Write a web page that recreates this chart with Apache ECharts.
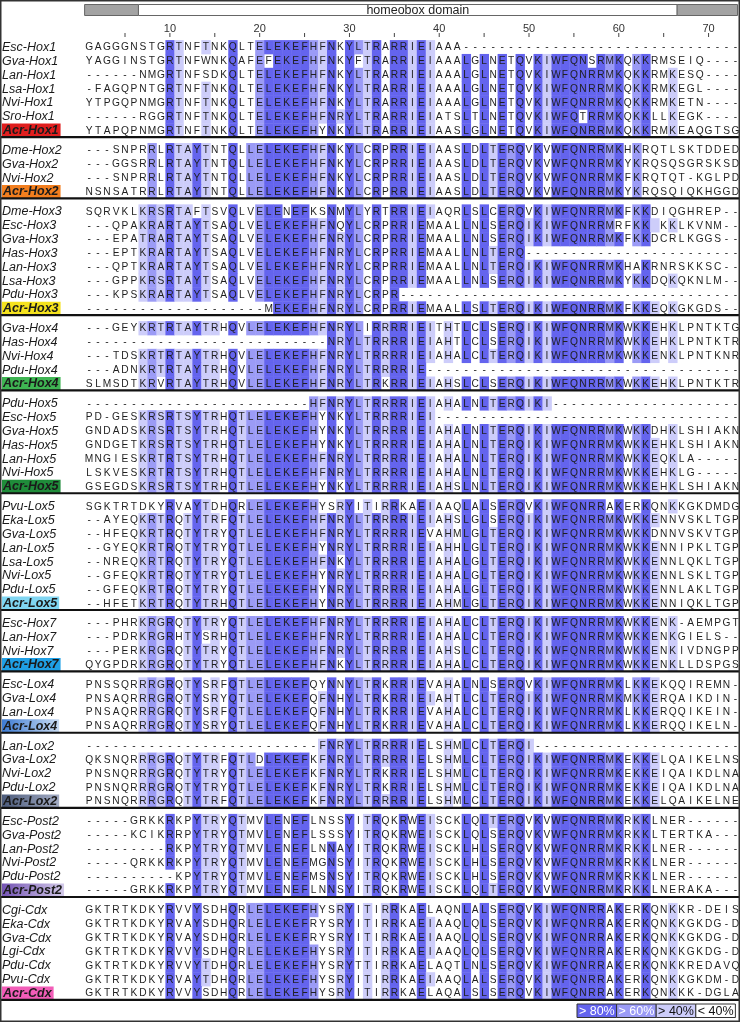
<!DOCTYPE html>
<html>
<head>
<meta charset="utf-8">
<script src="https://cdn.jsdelivr.net/npm/echarts@6.0.0/dist/echarts.min.js"></script>
<style>
html,body{margin:0;padding:0;background:#ffffff;}
#chart{width:740px;height:1023px;}
</style>
</head>
<body>
<div id="chart"></div>
<script>
// ---------------- DATA ----------------
const rowNames = [
 'Esc-Hox1','Gva-Hox1','Lan-Hox1','Lsa-Hox1','Nvi-Hox1','Sro-Hox1','Acr-Hox1',
 'Dme-Hox2','Gva-Hox2','Nvi-Hox2','Acr-Hox2',
 'Dme-Hox3','Esc-Hox3','Gva-Hox3','Has-Hox3','Lan-Hox3','Lsa-Hox3','Pdu-Hox3','Acr-Hox3',
 'Gva-Hox4','Has-Hox4','Nvi-Hox4','Pdu-Hox4','Acr-Hox4',
 'Pdu-Hox5','Esc-Hox5','Gva-Hox5','Has-Hox5','Lan-Hox5','Nvi-Hox5','Acr-Hox5',
 'Pvu-Lox5','Eka-Lox5','Gva-Lox5','Lan-Lox5','Lsa-Lox5','Nvi-Lox5','Pdu-Lox5','Acr-Lox5',
 'Esc-Hox7','Lan-Hox7','Nvi-Hox7','Acr-Hox7',
 'Esc-Lox4','Gva-Lox4','Lan-Lox4','Acr-Lox4',
 'Lan-Lox2','Gva-Lox2','Nvi-Lox2','Pdu-Lox2','Acr-Lox2',
 'Esc-Post2','Gva-Post2','Lan-Post2','Nvi-Post2','Pdu-Post2','Acr-Post2',
 'Cgi-Cdx','Eka-Cdx','Gva-Cdx','Lgi-Cdx','Pdu-Cdx','Pvu-Cdx','Acr-Cdx'
];
const groupNames = ['Hox1','Hox2','Hox3','Hox4','Hox5','Lox5','Hox7','Lox4','Lox2','Post2','Cdx'];
const groupSizes = [7,4,8,5,7,8,4,4,5,6,7];
// label box colours of the Acropora genes: [left, right] of the box
const acrColors = [
 ['#e01e1e','#e01e1e'], ['#f27e1e','#f27e1e'], ['#f5e21e','#f5e21e'], ['#3fb553','#3fb553'],
 ['#1f8c3a','#1f8c3a'], ['#80d6f2','#80d6f2'], ['#1fa0e6','#1fa0e6'], ['#3d7bd2','#c9dcf3'],
 ['#4b5a7a','#a3acc4'], ['#7352b3','#d3cae9'], ['#f25db8','#f25db8']
];

const D10 = '----------';
const rowSeqs = [
 // Hox1
 'GAGGGNSTGRTNFTNKQLTELEKEFHFNKYLT' + 'RARRIEIAAA' + D10 + D10 + D10 + '-',
 'YAGGINSTGRTNFWNKQAFEFEKEFHFNKYFT' + 'RARRIEIAAALGLNETQVKIWFQNSRMKQKKRMSEIQ----',
 '------NMGRTNFSDKQLTELEKEFHFNKYLT' + 'RARRIEIAAALGLNETQVKIWFQNRRMKQKKRMKESQ----',
 '-FAGQPNTGRTNFTNKQLTELEKEFHFNKYLT' + 'RARRIEIAAALGLNETQVKIWFQNRRMKQKKRMKEGL----',
 'YTPGQPNMGRTNFTNKQLTELEKEFHFNKYLT' + 'RARRIEIAAALGLNETQVKIWFQNRRMKQKKRMKETN----',
 '------RGGRTNFTNKQLTELEKEFHFNRYLT' + 'RARRIEIATSLTLNETQVKIWFQTRRMKQKKLLKEGK----',
 'YTAPQPNMGRTNFTNKQLTELEKEFHYNKYLT' + 'RARRIEIAASLGLNETQVKIWFQNRRMKQKKRMKEAQGTSG',
 // Hox2
 '---SNPRRLRTAYTNTQLLELEKEFHFNKYLC' + 'RPRRIEIAASLDLTERQVKVWFQNRRMKHKRQTLSKTDDED',
 '---GGSRRLRTAYTNTQLLELEKEFHFNKYLC' + 'RPRRIEIAASLDLTERQVKVWFQNRRMKYKRQSQSGRSKSD',
 '---SNPRRLRTAYTNTQLLELEKEFHFNKYLC' + 'RPRRIEIAASLDLTERQVKVWFQNRRMKFKRQTQT-KGLPD',
 'NSNSATRRLRTAYTNTQLLELEKEFHFNKYLC' + 'RPRRIEIAASLDLTERQVKVWFQNRRMKYKRQSQIQKHGGD',
 // Hox3
 'SQRVKLKRSRTAFTSVQLVELENEFKSNMYLY' + 'RTRRIEIAQRLSLCERQVKIWFQNRRMKFKKDIQGHREP--',
 '---QPAKRARTAYTSAQLVELEKEFHFNQYLC' + 'RPRRIEMAALLNLSERQIKIWFQNRRMRFKK KKLKVNM--',
 '---EPATRARTAYTSAQLVELEKEFHFNRYLC' + 'RPRRIEMAALLNLSERQIKIWFQNRRMKFKKDCRLKGGS--',
 '---EPTKRARTAYTSAQLVELEKEFHFNRYLC' + 'RPRRIEMAALLNLTERQ' + D10 + D10 + '----',
 '---QPTKRARTAYTSAQLVELEKEFHFNRYLC' + 'RPRRIEMAALLNLTERQIKIWFQNRRMKHAKRNRSKKSC--',
 '---GPPKRSRTAYTSAQLVELEKEFHFNRYLC' + 'RPRRIEMAALLNLSERQIKIWFQNRRMKYKKDQKQKNLM--',
 '---KPSKRARTAYTSAQLVELEKEFHFNRYLC' + 'RPR' + D10 + D10 + D10 + '--------',
 D10 + D10 + 'MEKEFHFNRYLC' + 'RPRRIEMAALLSLTERQIKIWFQNRRMKFKKEQKGKGDS--',
 // Hox4
 '---GEYKRTRTAYTRHQVLELEKEFHFNRYLI' + 'RRRRIEITHTLCLSERQIKIWFQNRRMKWKKEHKLPNTKTG',
 D10 + D10 + '-------' + 'NRYLT' + 'RRRRIEIAHTLCLSERQIKIWFQNRRMKWKKEHKLPNTKTR',
 '---TDSKRTRTAYTRHQVLELEKEFHFNRYLT' + 'RRRRIEIAHALCLTERQIKIWFQNRRMKWKKENKLPNTKNR',
 '---ADNKRTRTAYTRHQVLELEKEFHFNRYLT' + 'RRRRIE' + D10 + D10 + D10 + '-----',
 'SLMSDTKRVRTAYTRHQVLELEKEFHFNRYLT' + 'RKRRIEIAHSLCLSERQIKIWFQNRRMKWKKEHKLPNTKTR',
 // Hox5
 D10 + D10 + '-----' + 'HFNRYLT' + 'RRRRIEIAHALNLTERQIKI' + D10 + D10 + '-',
 'PD-GESKRSRTSYTRHQTLELEKEFHYNKYLT' + 'RRRRIEI' + D10 + D10 + D10 + '----',
 'GNDADSKRSRTSYTRHQTLELEKEFHYNKYLT' + 'RRRRIEIAHALNLTERQIKIWFQNRRMKWKKDHKLSHIAKN',
 'GNDGETKRSRTSYTRHQTLELEKEFHYNKYLT' + 'RRRRIEIAHALNLTERQIKIWFQNRRMKWKKEHKLSHIAKN',
 'MNGIESKRTRTSYTRHQTLELEKEFHFNRYLT' + 'RRRRIEIAHALNLTERQIKIWFQNRRMKWKKEQKLA-----',
 'LSKVESKRTRTSYTRHQTLELEKEFHFNRYLT' + 'RRRRIEIAHALNLTERQIKIWFQNRRMKWKKEHKLG-----',
 'GSEGDSKRSRTSYTRHQTLELEKEFHYNKYLT' + 'RRRRIEIAHSLNLTERQIKIWFQNRRMKWKKEHKLSHIAKN',
 // Lox5
 'SGKTRTDKYRVAYTDHQRLELEKEFHYSRYIT' + 'IRRKAEIAAQLALSERQVKIWFQNRRAKERKQNKKGKDMDG',
 '--AYEQKRTRQTYTRFQTLELEKEFHFNRYLT' + 'RRRRIEIAHSLGLSERQIKIWFQNRRMKWKKENNVSKLTGP',
 '--HFEQKRTRQTYTRYQTLELEKEFHFNRYLT' + 'RRRRIEVAHMLGLTERQIKIWFQNRRMKWKKDNNVSKVTGP',
 '--GYEQKRTRQTYTRYQTLELEKEFHYNRYLT' + 'RRRRIEIAHHLGLTERQIKIWFQNRRMKWKKENNIPKLTGP',
 '--NREQKRTRQTYTRYQTLELEKEFHFNKYLT' + 'RRRRIEIAHALGLTERQIKIWFQNRRMKWKKENNLQKLTGP',
 '--GFEQKRTRQTYTRYQTLELEKEFHYNRYLT' + 'RRRRIEIAHALGLTERQIKIWFQNRRMKWKKENNLSKLTGP',
 '--GFEQKRTRQTYTRYQTLELEKEFHYNRYLT' + 'RRRRIEIAHALGLTERQIKIWFQNRRMKWKKENNLAKLTGP',
 '--HFETKRTRQTYTRHQTLELEKEFHYNRYLT' + 'RRRRIEIAHMLGLTERQIKIWFQNRRMKWKKENNIQKLTGP',
 // Hox7
 '---PHRKRGRQTYTRYQTLELEKEFHFNRYLT' + 'RRRRIEIAHALCLTERQIKIWFQNRRMKWKKENK-AEMPGT',
 '---PDRKRGRHTYSRHQTLELEKEFHFNRYLT' + 'RRRRIEIAHALCLTERQIKIWFQNRRMKWKKENKGIELS--',
 '---PERKRGRQTYTRYQTLELEKEFHFNRYLT' + 'RRRRIEIAHSLCLTERQIKIWFQNRRMKWKKENKIVDNGPP',
 'QYGPDRKRGRQTYTRYQTLELEKEFHFNKYLT' + 'RRRRIEIAHALCLTERQIKIWFQNRRMKWKKENKLLDSPGS',
 // Lox4
 'PNSSQRRRGRQTYSRFQTLELEKEFQYNNYLT' + 'RKRRIEVAHALNLSERQVKIWFQNRRMKLKKEKQQIREMN-',
 'PNSAQRRRGRQTYSRYQTLELEKEFQFNHYLT' + 'RKRRIEIAHTLCLTERQIKIWFQNRRMKMKKERQAIKDIN-',
 'PNSAQRRRGRQTYSRFQTLELEKEFQFNHYLT' + 'RKRRIEVAHALCLTERQIKIWFQNRRMKLKKERQQIKEIN-',
 'PNSAQRRRGRQTYSRYQTLELEKEFQFNHYLT' + 'RKRRIEVAHALCLTERQIKIWFQNRRMKLKKERQQIKELN-',
 // Lox2
 D10 + D10 + '------' + 'FNRYLT' + 'RRRRIELSHMLCLTERQI' + D10 + D10 + '---',
 'QKSNQRRRGRQTYTRFQTLDLEKEFKFNRYLT' + 'RRRRIELSHMLCLTERQIKIWFQNRRMKEKKELQAIKELNS',
 'PNSNQRRRGRQTYTRYQTLELEKEFKFNRYLT' + 'RKRRIELSHMLCLTERQIKIWFQNRRMKEKKEIQAIKDLNA',
 'PNSNQRRRGRQTYTRYQTLELEKEFKFNRYLT' + 'RKRRIELSHMLCLTERQIKIWFQNRRMKEKKEIQAIKDLNA',
 'PNSNQRRRGRQTYTRFQTLELEKEFKFNRYLT' + 'RRRRIELSHMLCLTERQIKIWFQNRRMKEKKELQAIKELNE',
 // Post2
 '-----GRKKRKPYTRYQTMVLENEFLNSSYIT' + 'RQKRWEISCKLQLTERQVKVWFQNRRMKRKKLNER------',
 '-----KCIKRRPYTRYQTMVLENEFLSSSYIT' + 'RQKRWEISCKLQLSERQVKVWFQNRRMKRKKLTERTKA---',
 '---------RKPYTRYQTMVLENEFLNNAYIT' + 'RQKRWEISCKLHLSERQVKVWFQNRRMKRKKLNER------',
 '-----QRKKRKPYTRYQTMVLENEFMGNSYIT' + 'RQKRWEISCKLHLSERQVKVWFQNRRMKRKKLNER------',
 '----------KPYTRYQTMVLENEFMSNSYIT' + 'RQKRWEISCKLHLSERQVKVWFQNRRMKRKKLNER------',
 '-----GRKKRKPYTRYQTMVLENEFLNNSYIT' + 'RQKRWEISCKLQLTERQVKVWFQNRRMKRKKLNERAKA---',
 // Cdx
 'GKTRTKDKYRVVYSDHQRLELEKEFHYSRYIT' + 'IRRKAELAQNLALSERQVKIWFQNRRAKERKQNKKR-DEIS',
 'GKTRTKDKYRVAYSDHQRLELEKEFRYSRYIT' + 'IRRKAEIAAQLQLSERQVKIWFQNRRAKERKQNKKGKDG-D',
 'GKTRTKDKYRVAYSDHQRLELEKEFRYSRYIT' + 'IRRKAEIAAQLQLSERQVKIWFQNRRAKERKQNKKGKDG-D',
 'GKTRTKDKYRVVYSDHQRLELEKEFHYSRYIT' + 'IRRKAEIAAQLQLSERQVKIWFQNRRAKERKQNKKGKDG-D',
 'GKTRTKDKYRVVYTDHQRLELEKEFHYSRYTT' + 'IRRKAELAQTLNLSERQVKIWFQNRRAKERKQNKKREDAVQ',
 'GKTRTKDKYRVAYTDHQRLELEKEFHYSRYIT' + 'IRRKAEIAAQLALSERQVKIWFQNRRAKERKQNKKGKDM-D',
 'GKTRTKDKYRVVYSDHQRLELEKEFHYSRYIT' + 'IRRKAELAQALSLSERQVKIWFQNRRAKERKQNKKK-DGLA'
];

// shaded residues per alignment column (residue + level: 1 >40%, 2 >60%, 3 >80%)
const columnShading = [
 '', '', '', '', '', '',
 'K1R1', 'R2', 'A1S1T1G1', 'R3', 'T1', 'A1T1S1', 'Y3', 'T1', 'R1', '',
 'Q3', 'T1', 'L2', 'E2', 'L3', 'E3', 'K3', 'E3', 'F3', 'H2',
 'F1', 'N3', 'R1', 'Y3', 'L2', 'T1',
 'R3', 'R1', 'R3', 'R3', 'I1', 'E3', 'I1', '', 'H1', '',
 'L3', '', 'L3', 'T1', 'E3', 'R2', 'Q3', 'I1', 'K3', 'I1',
 'W3', 'F3', 'Q3', 'N3', 'R3', 'R3', 'M2', 'K3', '', 'K2',
 'K3', 'E1', '', 'K1', '', '', '', '', '', '', ''
];
// exceptions seen in the picture: [row or group, column, level]
const shadeOverrides = [
 ['Hox1', 7, 0], ['Hox1', 9, 0], ['Hox2', 7, 0], ['Post2', 7, 0],
 ['Cdx', 12, 0], ['Pvu-Lox5', 12, 0], ['Gva-Hox3', 7, 1], ['Esc-Hox3', 64, 1]
];

const rulerTicks = [5,10,15,20,25,30,35,40,45,50,55,60,65,70];
const rulerLabels = [10,20,30,40,50,60,70];
const domainLabel = 'homeobox domain';
const domainCols = [7, 66];
const legendLabels = ['> 80%','> 60%','> 40%','< 40%'];
const shadeColors = ['#ffffff', '#cdcdfa', '#9b9bf6', '#6464ee'];

// ---------------- LAYOUT HELPERS ----------------
const NCOL = 73;
const GAP = 0.43;
const rowY = [], groupOfRow = [];
(function(){
  let idx = 0;
  groupSizes.forEach((n, g) => { for (let k = 0; k < n; k++) { rowY.push(idx + g * GAP); groupOfRow.push(g); idx++; } });
})();
const yMax = rowY[rowY.length - 1] + 0.5;
const sepY = [];
(function(){ let acc = 0; groupSizes.forEach(n => { acc += n; sepY.push(rowY[acc - 1] + 0.5); }); })();

const shadeMap = columnShading.map(s => { const m = {}; for (let i = 0; i + 1 < s.length; i += 2) m[s[i]] = +s[i + 1]; return m; });

const cells = [];
rowSeqs.forEach((raw, r) => {
  const s = raw.padEnd(NCOL, '-').slice(0, NCOL);
  for (let c = 1; c <= NCOL; c++) {
    const ch = s[c - 1];
    let lv = shadeMap[c - 1][ch] || 0;
    shadeOverrides.forEach(o => {
      if ((o[0] === rowNames[r] || o[0] === groupNames[groupOfRow[r]]) && o[1] === c && ch !== '-') lv = o[2];
    });
    cells.push({ col: c, y: rowY[r], letter: ch, level: lv });
  }
});

const SEQ_FONT = '10.2px "Liberation Sans", Arial, sans-serif';
const NAME_FONT = '12.5px "Liberation Sans", Arial, sans-serif';

function renderCell(params, api) {
  const cell = cells[params.dataIndex];
  const p = api.coord([cell.col, cell.y]);
  const sz = api.size([1, 1]);
  const ch = [];
  if (cell.level > 0) {
    ch.push({ type: 'rect', shape: { x: p[0] - sz[0] / 2, y: p[1] - sz[1] / 2, width: sz[0] + 0.4, height: sz[1] + 0.4 }, style: { fill: shadeColors[cell.level] }, silent: true });
  }
  if (cell.letter !== ' ') {
    ch.push({ type: 'text', x: p[0], y: p[1] + 0.6, style: { text: cell.letter, fill: '#1f1f1f', font: SEQ_FONT, align: 'center', verticalAlign: 'middle' }, silent: true });
  }
  return { type: 'group', children: ch };
}

function renderName(params, api) {
  const i = params.dataIndex;
  const p = api.coord([1, rowY[i]]);
  const isAcr = rowNames[i].indexOf('Acr') === 0;
  const style = { text: rowNames[i], fill: '#1a1a1a', font: (isAcr ? 'italic bold ' : 'italic ') + NAME_FONT, align: 'left', verticalAlign: 'middle' };
  if (isAcr) {
    const cc = acrColors[groupOfRow[i]];
    style.backgroundColor = cc[0] === cc[1] ? cc[0] : new echarts.graphic.LinearGradient(0, 0, 1, 0, [{ offset: 0, color: cc[0] }, { offset: 1, color: cc[1] }]);
    style.padding = [1, 2, 0, 1];
  }
  return { type: 'text', x: 2, y: p[1] + 0.5, style: style, silent: true };
}

function renderSep(params, api) {
  const y = api.coord([1, sepY[params.dataIndex]])[1];
  return { type: 'line', shape: { x1: 0, y1: y, x2: 740, y2: y }, style: { stroke: '#111111', lineWidth: 2.2 }, silent: true };
}

function renderTick(params, api) {
  const x = api.coord([rulerTicks[params.dataIndex], -0.5])[0];
  return { type: 'line', shape: { x1: x, y1: 33, x2: x, y2: 37 }, style: { stroke: '#444', lineWidth: 1 }, silent: true };
}

const chart = echarts.init(document.getElementById('chart'));
chart.setOption({
  animation: false,
  backgroundColor: '#ffffff',
  grid: { left: 84.6, top: 40.1, width: 656.1, height: 959.8 },
  xAxis: {
    type: 'value', position: 'top', min: 0.5, max: 73.5, offset: 3,
    axisLine: { show: false }, splitLine: { show: false }, axisTick: { show: false },
    axisLabel: { show: true, customValues: rulerLabels, margin: 3, color: '#333', fontSize: 11, fontFamily: '"Liberation Sans", Arial, sans-serif' }
  },
  yAxis: { type: 'value', inverse: true, min: -0.5, max: yMax, show: false },
  series: [
    { type: 'custom', name: 'cells', clip: false, progressive: 0, renderItem: renderCell, data: cells.map(c => [c.col, c.y]) },
    { type: 'custom', name: 'names', clip: false, progressive: 0, renderItem: renderName, data: rowY.map(y => [1, y]) },
    { type: 'custom', name: 'separators', clip: false, progressive: 0, renderItem: renderSep, data: sepY.map(y => [1, y]) },
    { type: 'custom', name: 'ruler', clip: false, progressive: 0, renderItem: renderTick, data: rulerTicks.map(v => [v, -0.5]) }
  ]
});

// frame, domain bar and key
const px = v => chart.convertToPixel({ xAxisIndex: 0 }, v);
const xa = px(0.5), xb = px(domainCols[0] - 0.5), xc = px(domainCols[1] + 0.5), xd = 737.5;
const barY = 4.5, barH = 11;
const legX = 577, legW = 39.6, legY = 1004, legH = 13.5;
const graphics = [
  { type: 'rect', shape: { x: 0.75, y: 0.75, width: 738.5, height: 1020.5 }, style: { fill: 'none', stroke: '#333', lineWidth: 1.5 }, z: 100 },
  { type: 'rect', shape: { x: xa, y: barY, width: xb - xa, height: barH }, style: { fill: '#a3a3a3', stroke: '#666', lineWidth: 1 } },
  { type: 'rect', shape: { x: xb, y: barY, width: xc - xb, height: barH }, style: { fill: '#ffffff', stroke: '#666', lineWidth: 1 } },
  { type: 'rect', shape: { x: xc, y: barY, width: xd - xc, height: barH }, style: { fill: '#a3a3a3', stroke: '#666', lineWidth: 1 } },
  { type: 'text', x: (xb + xc) / 2 + 10, y: barY + barH / 2 + 0.5, style: { text: domainLabel, fill: '#222', font: '12.5px "Liberation Sans", Arial, sans-serif', align: 'center', verticalAlign: 'middle' } }
];
legendLabels.forEach((t, k) => {
  const lv = 3 - k;
  graphics.push({ type: 'rect', shape: { x: legX + k * legW, y: legY, width: legW, height: legH }, style: { fill: shadeColors[lv], stroke: '#333', lineWidth: 1 } });
  graphics.push({ type: 'text', x: legX + k * legW + legW / 2, y: legY + legH / 2 + 0.5, style: { text: t, fill: lv >= 2 ? '#ffffff' : '#111111', font: '12.5px "Liberation Sans", Arial, sans-serif', align: 'center', verticalAlign: 'middle' } });
});
chart.setOption({ graphic: graphics });
</script>
</body>
</html>
